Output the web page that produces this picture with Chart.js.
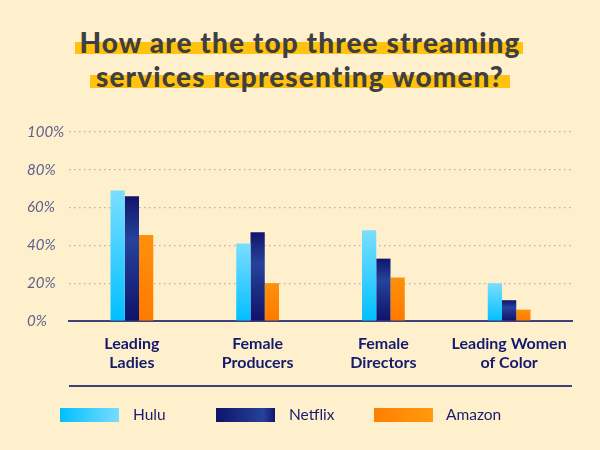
<!DOCTYPE html>
<html>
<head>
<meta charset="utf-8">
<script src="https://cdn.jsdelivr.net/npm/chart.js@4/dist/chart.umd.min.js"></script>
<style>
  html,body{margin:0;padding:0;background:#FFF0CD;}
  #wrap{position:relative;width:600px;height:450px;overflow:hidden;background:#FFF0CD;}
  #c{position:absolute;left:0;top:0;}
  .title{position:absolute;left:0;width:600px;text-align:center;font-family:Lato,sans-serif;font-weight:900;font-size:28px;color:#3f3f41;letter-spacing:1.1px;}
  .hl{position:absolute;background:#FFC20E;}
  .sep{position:absolute;left:69px;width:503px;top:385px;height:1.5px;background:#3f4278;}
  .lbox{position:absolute;top:408px;width:59px;height:14px;}
  .ltxt{position:absolute;top:405px;font-family:Lato,sans-serif;font-size:15.5px;color:#1a1d6e;}
</style>
</head>
<body>
<div id="wrap">
  <div class="hl" style="left:75px;top:42px;width:448px;height:12px;"></div>
  <div class="hl" style="left:90px;top:75px;width:420px;height:13px;"></div>
  <div class="title" style="top:25px;">How are the top three streaming</div>
  <div class="title" style="top:59px;">services representing women?</div>
  <canvas id="c" width="600" height="450"></canvas>
  <div class="sep"></div>
  <div class="lbox" style="left:60px;background:linear-gradient(90deg,#00C0FF,#78DCFF);"></div>
  <div class="ltxt" style="left:133px;">Hulu</div>
  <div class="lbox" style="left:216px;background:linear-gradient(90deg,#0F136B,#26429A 80%,#10156E);"></div>
  <div class="ltxt" style="left:289px;">Netflix</div>
  <div class="lbox" style="left:374px;background:linear-gradient(90deg,#FF7F00,#FF9A0E);"></div>
  <div class="ltxt" style="left:446px;">Amazon</div>
</div>
<script>
const categories = [["Leading","Ladies"],["Female","Producers"],["Female","Directors"],["Leading Women","of Color"]];
const seriesNames = ["Hulu","Netflix","Amazon"];
const hulu = [69, 41, 48, 20];
const netflix = [66, 47, 33, 11];
const amazon = [45.5, 20, 23, 6];
const yTicks = [0, 20, 40, 60, 80, 100];

const gradStops = {
  Hulu: [[0,"#7ADEFF"],[1,"#00BFFF"]],
  Netflix: [[0,"#10146C"],[0.35,"#26439B"],[1,"#0F126A"]],
  Amazon: [[0,"#FF900A"],[1,"#FF7A00"]]
};

function barGradient(name){
  return function(ctx){
    const chart = ctx.chart;
    if(!chart.chartArea || ctx.type !== 'data') return gradStops[name][1][1];
    const y = chart.scales.y;
    const top = y.getPixelForValue(ctx.raw);
    const base = y.getPixelForValue(0);
    const g = chart.ctx.createLinearGradient(0, top, 0, base);
    gradStops[name].forEach(s => g.addColorStop(s[0], s[1]));
    return g;
  };
}

const seriesData = [hulu, netflix, amazon];

new Chart(document.getElementById('c'), {
  type: 'bar',
  data: {
    labels: categories,
    datasets: seriesNames.map((n,i) => ({
      label: n,
      data: seriesData[i],
      backgroundColor: barGradient(n),
      borderWidth: 0,
      categoryPercentage: 0.34,
      barPercentage: 1.0
    }))
  },
  options: {
    responsive: false,
    animation: false,
    devicePixelRatio: 1,
    layout: { padding: { top: 132, left: 27, right: 28, bottom: 0 } },
    plugins: { legend: { display: false }, tooltip: { enabled: false } },
    scales: {
      x: {
        grid: { display: false, drawTicks: false },
        border: { display: true, color: '#3f4278', width: 2 },
        ticks: {
          color: '#141a6e',
          font: { family: 'Lato', weight: 'bold', size: 16, lineHeight: 1.2 },
          padding: 13,
          maxRotation: 0,
          autoSkip: false
        },
        afterFit: s => { s.height = 129; }
      },
      y: {
        min: 0, max: 100,
        afterBuildTicks: s => { s.ticks = yTicks.map(v => ({ value: v })); },
        grid: {
          drawTicks: false,
          color: '#b9afae',
          lineWidth: 1.2
        },
        border: { display: false, dash: [1.5, 3.5] },
        ticks: {
          crossAlign: 'far',
          color: '#5d5f8e',
          font: { family: 'Lato', style: 'italic', size: 15 },
          callback: v => v + '%'
        },
        afterFit: s => { s.width = 42; }
      }
    }
  }
});
</script>
</body>
</html>
